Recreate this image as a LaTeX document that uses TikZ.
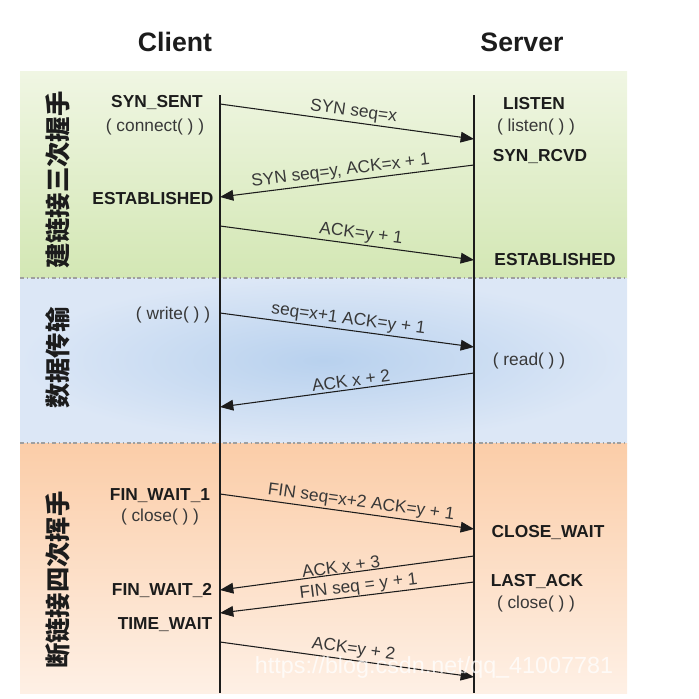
\documentclass[tikz,border=0pt]{standalone}
\usepackage{fontspec}
\setmainfont{Liberation Sans}
\newfontfamily\cjk{Noto Sans CJK SC}
\usetikzlibrary{arrows.meta}
\definecolor{gtop}{HTML}{F0F6E3}
\definecolor{gbot}{HTML}{D3E7B4}
\definecolor{bin}{HTML}{B8D1EE}
\definecolor{bout}{HTML}{DCE7F6}
\definecolor{otop}{HTML}{FBCDA8}
\definecolor{obot}{HTML}{FEF0E5}
\definecolor{ink}{HTML}{1C1C1C}
\definecolor{txt}{HTML}{383838}
\begin{document}
\begin{tikzpicture}[x=0.75pt,y=-0.75pt,
  msg/.style={draw=ink, line width=0.8pt, -{Triangle[length=10pt,width=8pt]}},
  lbl/.style={font=\fontsize{13}{15}\selectfont, text=txt, above, inner sep=1.5pt},
  st/.style={font=\fontsize{13}{15}\selectfont\bfseries, text=ink, anchor=base, inner sep=0pt},
  call/.style={font=\fontsize{13}{15}\selectfont, text=txt, anchor=base, inner sep=0pt},
  ttl/.style={font=\fontsize{20}{24}\selectfont\bfseries, text=ink, anchor=base, inner sep=0pt},
  phase/.style={font=\cjk\bfseries\fontsize{19}{20}\selectfont, rotate=90, inner sep=0pt, text=ink},
  sepline/.style={draw=gray!75, line width=0.9pt, dash pattern=on 3pt off 2pt on 1pt off 2pt},
  life/.style={draw=ink, line width=0.8pt}
]
\useasboundingbox (0,0) rectangle (699,699);
% bands
\shade[top color=gtop, bottom color=gbot] (20,72) rectangle (627,278);
\shade[inner color=bin, outer color=bout] (20,278) rectangle (627,443);
\shade[top color=otop, bottom color=obot] (20,443) rectangle (627,693);
\draw[sepline] (20,278) -- (627,278);
\draw[sepline] (20,443) -- (627,443);
% titles
\node[ttl] (client) at (175,51) {Client};
\node[ttl] (server) at (522,51) {Server};
% lifelines
\coordinate (ctop) at (220,95);
\coordinate (cbot) at (220,693);
\coordinate (stop) at (474,95);
\coordinate (sbot) at (474,693);
\draw[life] (ctop) -- (cbot);
\draw[life] (stop) -- (sbot);
% phases
\node[phase] (p1) at (58,180) {建链接三次握手};
\node[phase] (p2) at (58,358) {数据传输};
\node[phase] (p3) at (58,580) {断链接四次挥手};
% message endpoints
\coordinate (c1) at (220,104); \coordinate (s1) at (474,139);
\coordinate (s2) at (474,165); \coordinate (c2) at (220,197);
\coordinate (c3) at (220,226); \coordinate (s3) at (474,260);
\coordinate (c4) at (220,313); \coordinate (s4) at (474,347);
\coordinate (s5) at (474,373); \coordinate (c5) at (220,407);
\coordinate (c6) at (220,494); \coordinate (s6) at (474,529);
\coordinate (s7) at (474,556); \coordinate (c7) at (220,590);
\coordinate (s8) at (474,582); \coordinate (c8) at (220,613);
\coordinate (c9) at (220,642); \coordinate (s9) at (474,677);
% messages
\draw[msg] (c1) -- node[lbl, pos=0.52, rotate=-7.85] (m1) {SYN seq=x} (s1);
\draw[msg] (s2) -- node[lbl, pos=0.52, rotate=7.18] (m2) {SYN seq=y, ACK=x + 1} (c2);
\draw[msg] (c3) -- node[lbl, pos=0.55, rotate=-7.62] (m3) {ACK=y + 1} (s3);
\draw[msg] (c4) -- node[lbl, pos=0.5, rotate=-7.62] (m4) {seq=x+1 ACK=y + 1} (s4);
\draw[msg] (s5) -- node[lbl, pos=0.48, rotate=7.62] (m5) {ACK x + 2} (c5);
\draw[msg] (c6) -- node[lbl, pos=0.55, rotate=-7.85] (m6) {FIN seq=x+2 ACK=y + 1} (s6);
\draw[msg] (s7) -- node[lbl, pos=0.52, rotate=7.62, inner sep=0.5pt] (m7) {ACK x + 3} (c7);
\draw[msg] (s8) -- node[lbl, pos=0.45, rotate=6.96, inner sep=0.5pt] (m8) {FIN seq = y + 1} (c8);
\draw[msg] (c9) -- node[lbl, pos=0.52, rotate=-7.85] (m9) {ACK=y + 2} (s9);
% client states
\node[st] (synsent) at (157,108) {SYN\_SENT};
\node[call] (connect) at (155,131) {( connect( ) )};
\node[st] (cest) at (153,204) {ESTABLISHED};
\node[call] (write) at (173,319) {( write( ) )};
\node[st] (fw1) at (160,500) {FIN\_WAIT\_1};
\node[call] (cclose) at (160,521) {( close( ) )};
\node[st] (fw2) at (162,595) {FIN\_WAIT\_2};
\node[st] (tw) at (165,629) {TIME\_WAIT};
% server states
\node[st] (listen) at (534,109) {LISTEN};
\node[call] (listencall) at (536,131) {( listen( ) )};
\node[st] (synrcvd) at (540,161) {SYN\_RCVD};
\node[st] (sest) at (555,265) {ESTABLISHED};
\node[call] (read) at (529,365) {( read( ) )};
\node[st] (cw) at (548,537) {CLOSE\_WAIT};
\node[st] (lack) at (537,586) {LAST\_ACK};
\node[call] (sclose) at (536,608) {( close( ) )};
% watermark
\node[font=\fontsize{17.5}{20}\selectfont, text=white, opacity=0.75, inner sep=0pt] (wm) at (434,667) {https://blog.csdn.net/qq\_41007781};
\end{tikzpicture}
\end{document}
